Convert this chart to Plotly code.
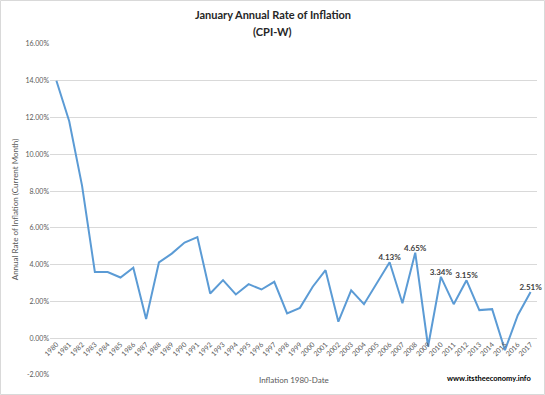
import plotly.graph_objects as go

years = [str(y) for y in range(1980, 2018)]
inflation = [14.0, 11.8, 8.3, 3.6, 3.6, 3.3, 3.83, 1.04, 4.12, 4.6, 5.2, 5.5,
             2.43, 3.16, 2.38, 2.94, 2.65, 3.07, 1.35, 1.65, 2.8, 3.7, 0.9, 2.6,
             1.85, 3.0, 4.13, 1.9, 4.65, -0.45, 3.34, 1.85, 3.15, 1.53, 1.58,
             -0.65, 1.25, 2.51]
labeled_years = ["2006", "2008", "2010", "2012", "2017"]
y_ticks = [-2, 0, 2, 4, 6, 8, 10, 12, 14, 16]

labels = [f"{v:.2f}%" if y in labeled_years else "" for y, v in zip(years, inflation)]
xs = list(range(len(years)))

FONT = "Lato, 'Open Sans', sans-serif"
GRAY = "#595959"

W, H = 545, 395
ML, MR, MT, MB = 50, 8, 44, 20
PH = H - MT - MB
PW = W - ML - MR


def py(px):
    return (H - MB - px) / PH


def pxx(px):
    return (px - ML) / PW


fig = go.Figure()
fig.add_trace(go.Scatter(
    x=xs, y=inflation, mode="lines+text",
    line=dict(color="#5B9BD5", width=2),
    text=labels, textposition="top center",
    textfont=dict(family=FONT, size=8, color="#404040", weight="bold"),
    cliponaxis=False, hoverinfo="x+y",
))

fig.update_layout(
    width=W, height=H,
    margin=dict(l=ML, r=MR, t=MT, b=MB),
    paper_bgcolor="white", plot_bgcolor="white",
    showlegend=False,
    xaxis=dict(
        range=[-0.5, len(years) - 0.5],
        tickvals=xs, ticktext=years, tickangle=-45,
        tickfont=dict(family=FONT, size=7, color=GRAY),
        showgrid=False, zeroline=False, showline=False, ticks="",
        anchor="free", position=2 / 18,
    ),
    yaxis=dict(
        range=[-2, 16], tickvals=y_ticks,
        ticktext=[f"{t:.2f}%" for t in y_ticks],
        tickfont=dict(family=FONT, size=7, color=GRAY),
        showgrid=True, gridcolor="#D9D9D9", gridwidth=1,
        zeroline=False, showline=False, ticks="",
        title=dict(text="Annual Rate of Inflation (Current Month)",
                   font=dict(family=FONT, size=8, color=GRAY), standoff=5),
    ),
    shapes=[dict(type="rect", xref="paper", yref="paper",
                 x0=pxx(0.5), x1=pxx(W - 0.5), y0=py(H - 0.5), y1=py(0.5),
                 line=dict(color="#D9D9D9", width=1), layer="below")],
    annotations=[
        dict(text="<b>January Annual Rate of Inflation</b>", xref="paper", yref="paper",
             x=pxx(272.5), y=py(15), xanchor="center", yanchor="middle",
             showarrow=False, font=dict(family=FONT, size=11, color="#262626")),
        dict(text="<b>(CPI-W)</b>", xref="paper", yref="paper",
             x=pxx(272.5), y=py(31), xanchor="center", yanchor="middle",
             showarrow=False, font=dict(family=FONT, size=11, color="#262626")),
        dict(text="Inflation 1980-Date", xref="paper", yref="paper",
             x=0.5, y=py(380), xanchor="center", yanchor="middle", showarrow=False,
             font=dict(family=FONT, size=8, color=GRAY)),
        dict(text="<b>www.itstheeconomy.info</b>", xref="paper", yref="paper",
             x=pxx(533), y=py(379), xanchor="right", yanchor="middle",
             showarrow=False, font=dict(family=FONT, size=7.5, color="#000000")),
    ],
)

fig.write_html("out.html", config={"displayModeBar": False},
               post_script="document.body.style.margin='0';")
